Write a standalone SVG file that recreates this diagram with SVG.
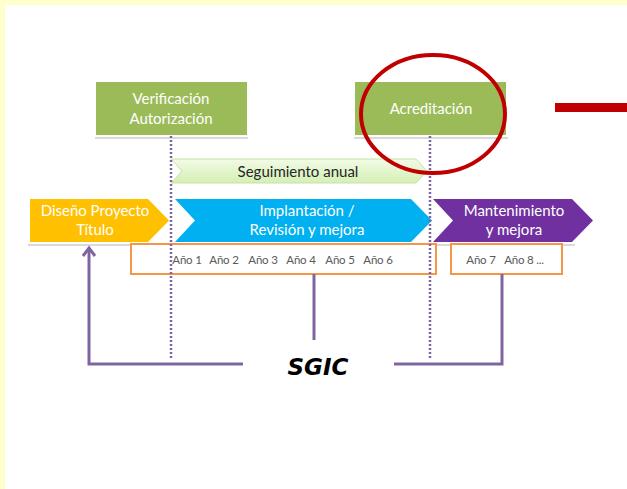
<svg xmlns="http://www.w3.org/2000/svg" width="627" height="489" viewBox="0 0 627 489">
<defs>
<style>
.wt{fill:#fff;font-family:Lato,"Liberation Sans",sans-serif;font-size:15px;text-anchor:middle}
.yr{fill:#595959;font-family:Lato,"Liberation Sans",sans-serif;font-size:11.5px;text-anchor:middle;letter-spacing:-0.2px}
.dot{stroke:#7F63A8;stroke-width:2.5;stroke-dasharray:2 2;fill:none}
.conn{stroke:#8064A2;stroke-width:3;fill:none}
.ob{fill:#fff;stroke:#F79646;stroke-width:2}
.sh{stroke:#d9d9d9;stroke-width:2;fill:none}
</style>
<linearGradient id="gs" x1="0" y1="0" x2="0" y2="1">
<stop offset="0" stop-color="#F2FBE6"/>
<stop offset="1" stop-color="#D4F0B4"/>
</linearGradient>
</defs>
<rect width="627" height="489" fill="#fff"/>
<rect x="0" y="0" width="627" height="5" fill="#FFFFCC"/>
<rect x="0" y="0" width="5" height="489" fill="#FFFFCC"/>

<g id="verificacion">
<line class="sh" x1="95" y1="138" x2="248" y2="138"/>
<rect x="96" y="82" width="151" height="53" fill="#9BBB59"/>
<text class="wt" x="171" y="104">Verificación</text>
<text class="wt" x="171" y="124">Autorización</text>
</g>
<g id="acreditacion">
<line class="sh" x1="354" y1="138" x2="508" y2="138"/>
<rect x="355" y="82" width="151" height="53" fill="#9BBB59"/>
<text class="wt" x="431" y="114">Acreditación</text>
</g>

<g id="seguimiento">
<path d="M171,159 L416,159 L427,171 L416,183 L171,183 L182,171 Z" fill="url(#gs)" stroke="#C6E3A5" stroke-width="1"/>
<text x="298" y="177" fill="#262626" font-family="Lato,'Liberation Sans',sans-serif" font-size="15" text-anchor="middle">Seguimiento anual</text>
</g>

<g id="diseno">
<line class="sh" x1="28" y1="245" x2="150" y2="245"/>
<path d="M30,199 L148,199 L169,220.5 L148,242 L30,242 Z" fill="#FFC000"/>
<text class="wt" x="95" y="216">Diseño Proyecto</text>
<text class="wt" x="95" y="235">Título</text>
</g>
<g id="implantacion">
<path d="M175,199 L411,199 L432,220.5 L411,242 L175,242 L195,220.5 Z" fill="#00B0F0"/>
<text class="wt" x="307" y="216">Implantación /</text>
<text class="wt" x="307" y="235">Revisión y mejora</text>
</g>
<g id="mantenimiento">
<line class="sh" x1="433" y1="245" x2="575" y2="245"/>
<path d="M433,199 L572,199 L593,220.5 L572,242 L433,242 L453,220.5 Z" fill="#7030A0"/>
<text class="wt" x="514" y="216">Mantenimiento</text>
<text class="wt" x="514" y="235">y mejora</text>
</g>

<g id="anos1">
<rect class="ob" x="131" y="244" width="305" height="30"/>
<text class="yr" x="187" y="264">Año 1</text>
<text class="yr" x="224" y="264">Año 2</text>
<text class="yr" x="263" y="264">Año 3</text>
<text class="yr" x="301" y="264">Año 4</text>
<text class="yr" x="340" y="264">Año 5</text>
<text class="yr" x="378" y="264">Año 6</text>
</g>
<g id="anos2">
<rect class="ob" x="451" y="244" width="111" height="30"/>
<text class="yr" x="481" y="264">Año 7</text>
<text class="yr" x="524" y="264">Año 8 ...</text>
</g>

<g id="connectors">
<line class="dot" x1="171" y1="136" x2="171" y2="358"/>
<line class="dot" x1="430" y1="136" x2="430" y2="358"/>
<line class="conn" x1="314" y1="274" x2="314" y2="340"/>
<path class="conn" d="M243,364 L89,364 L89,249"/>
<path class="conn" d="M83,256 L89,248 L95,256" stroke-linejoin="miter"/>
<path class="conn" d="M394,364 L502,364 L502,274"/>
</g>

<g id="sgic">
<text x="318" y="375" font-family="'DejaVu Sans','Liberation Sans',sans-serif" font-weight="bold" font-style="italic" font-size="23" text-anchor="middle" fill="#000">SGIC</text>
</g>

<g id="highlight">
<ellipse cx="433" cy="114" rx="72" ry="59" fill="none" stroke="#C00000" stroke-width="4"/>
<rect x="555" y="103" width="72" height="9" fill="#C00000"/>
</g>
</svg>
